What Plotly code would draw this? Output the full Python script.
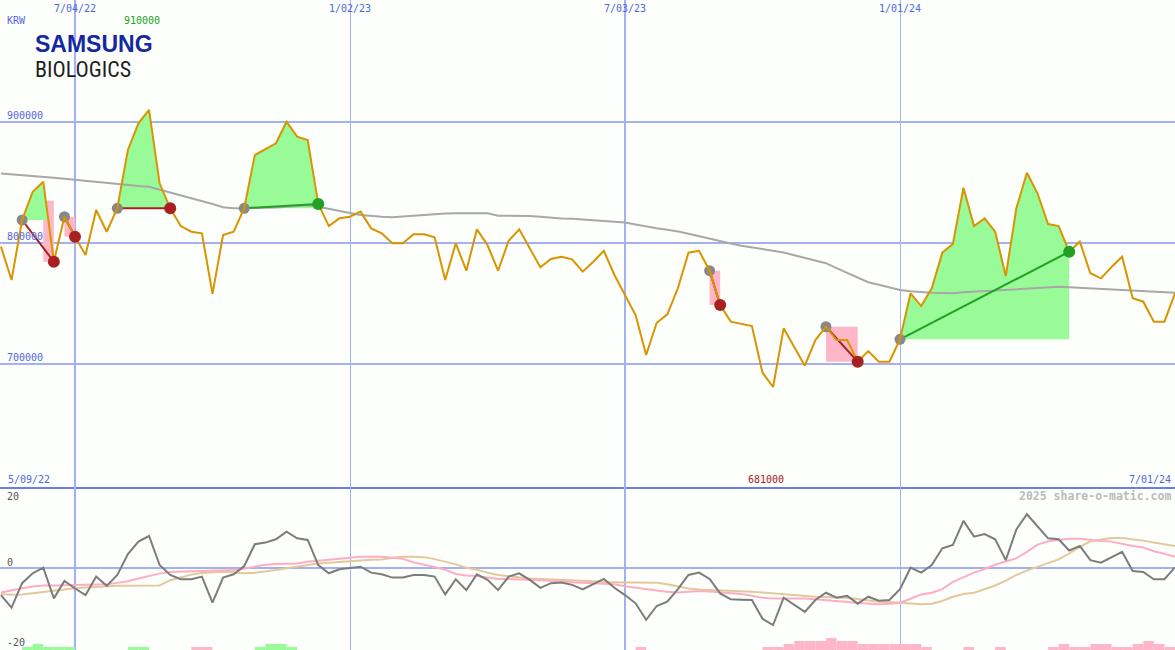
import pandas as pd
import plotly.graph_objects as go

# ---------------- data ----------------
start_week = "2022-05-16"

price = [
    797000, 769400, 819000, 842400, 850700, 784500, 821700, 805200, 790100, 827300,
    809300, 828700, 876900, 898900, 910000, 849300, 828700, 814000, 809300, 808000,
    757900, 806600, 809300, 828700, 872700, 877400, 882400, 900200, 887900, 885100,
    832200, 814000, 820400, 821700, 825900, 812100, 808000, 799800, 799800, 807200,
    807200, 804700, 769400, 799800, 777100, 811300, 798300, 777100, 801900, 811300,
    795600, 779900, 786800, 788700, 786500, 776300, 784500, 793600, 773600, 757000,
    740500, 707400, 734100, 741100, 762600, 792000, 793600, 777100, 748800, 735000,
    733100, 731400, 692800, 681000, 729500, 714300, 698600, 719800, 730800, 719800,
    719800, 701900, 710700, 701900, 701900, 720400, 758400, 747900, 762600, 792000,
    799200, 845700, 814000, 820400, 809300, 772700, 828700, 858100, 841100, 815700,
    814000, 792800, 801100, 775000, 770800, 780200, 788700, 754300, 751500, 735000,
    735000, 758400,
]

ma_long = [
    857500, 856900, 856400, 855800, 855000, 854000, 853100, 852200, 851300, 850500,
    849500, 848300, 847600, 847100, 846500, 844200, 841700, 839400, 837300, 835000,
    832200, 829600, 828700, 828700, 828700, 828700, 829300, 829900, 830600, 831200,
    829900, 828000, 826400, 824800, 823100, 822100, 821700, 821200, 821900, 822700,
    823500, 824000, 824400, 824500, 824500, 824500, 824500, 822600, 822600, 822400,
    822300, 821600, 820800, 820200, 820000, 819700, 818800, 818200, 817500, 816900,
    815300, 813600, 812200, 810900, 809600, 807600, 805500, 803200, 801300, 799600,
    797800, 796300, 795000, 793700, 792100, 789900, 787700, 785500, 783300, 779300,
    775300, 771200, 767600, 765500, 763300, 761200, 760200, 759300, 758900, 758700,
    758400, 759300, 759800, 760800, 761300, 761800, 762100, 762600, 763100, 763600,
    763800, 763400, 762900, 762600, 762200, 761900, 761400, 760800, 760300, 759800,
    759400, 758900,
]

osc = [
    -8.3, -12.1, -4.7, -1.7, 0.0, -9.3, -4.0, -6.3, -8.3, -2.7,
    -5.5, -2.2, 4.1, 7.9, 9.6, 0.8, -2.2, -3.5, -3.5, -2.7,
    -10.6, -3.0, -2.0, 0.5, 7.1, 7.6, 8.6, 10.9, 8.9, 8.4,
    0.8, -1.7, -0.5, -0.2, 0.3, -1.5, -2.0, -3.0, -3.0, -2.2,
    -2.2, -2.7, -8.1, -3.5, -6.8, -2.0, -3.7, -6.8, -2.7, -1.7,
    -3.7, -6.1, -4.7, -4.5, -5.2, -6.6, -5.0, -3.4, -6.1, -8.3,
    -10.8, -15.8, -11.6, -10.3, -6.5, -2.2, -1.5, -3.4, -7.8, -9.6,
    -9.7, -9.8, -15.5, -17.4, -9.1, -11.3, -13.4, -9.8, -7.6, -9.1,
    -8.5, -10.9, -8.8, -10.0, -9.8, -6.5, 0.0, -1.5, 0.8, 5.9,
    6.9, 14.2, 9.4, 10.2, 8.6, 2.3, 11.6, 16.2, 12.7, 8.9,
    8.6, 5.2, 6.6, 2.3, 1.5, 3.2, 4.8, -1.0, -1.3, -3.5,
    -3.5, 0.1,
]

osc_fast = [
    -7.5, -6.8, -6.2, -5.7, -5.4, -5.4, -5.3, -5.3, -5.2, -5.1,
    -5.0, -4.6, -4.1, -3.3, -2.5, -1.8, -1.3, -1.2, -1.2, -1.2,
    -1.1, -1.0, -0.7, -0.3, 0.3, 0.9, 1.1, 1.2, 1.3, 1.8,
    2.1, 2.3, 2.5, 2.9, 3.3, 3.3, 3.3, 3.0, 2.7, 1.6,
    1.0, 0.2, -0.6, -1.9, -2.4, -2.5, -3.0, -3.4, -3.4, -3.5,
    -3.6, -3.8, -3.9, -4.1, -4.4, -4.5, -4.6, -4.8, -5.0, -5.6,
    -6.1, -6.5, -6.9, -7.3, -7.5, -7.3, -7.1, -7.2, -7.4, -7.6,
    -8.0, -8.5, -9.1, -9.3, -9.3, -9.3, -9.3, -9.6, -9.8, -10.1,
    -10.4, -10.7, -10.9, -11.1, -10.9, -10.6, -9.4, -8.1, -7.6, -6.5,
    -4.3, -2.8, -1.5, -0.4, 0.9, 1.9, 2.8, 4.8, 7.0, 8.0,
    8.4, 8.8, 8.8, 8.4, 8.1, 7.9, 7.2, 6.6, 6.1, 5.0,
    4.2, 3.3,
]

osc_slow = [
    -8.0, -8.2, -8.1, -7.7, -7.3, -7.0, -6.6, -6.2, -6.0, -5.8,
    -5.6, -5.5, -5.5, -5.5, -5.5, -5.4, -3.8, -2.9, -2.1, -1.6,
    -1.4, -1.2, -1.4, -1.7, -1.5, -1.2, -0.7, -0.2, 0.3, 0.9,
    1.3, 1.5, 1.8, 2.0, 2.2, 2.4, 2.5, 3.0, 3.3, 3.3,
    3.2, 2.6, 1.9, 1.0, 0.0, -0.6, -1.5, -2.2, -2.6, -3.0,
    -3.3, -3.4, -3.5, -3.6, -3.8, -4.0, -4.1, -4.3, -4.5, -4.5,
    -4.5, -4.5, -4.6, -5.0, -5.6, -6.3, -6.6, -6.7, -6.9, -7.0,
    -7.2, -7.3, -7.5, -7.8, -8.1, -8.3, -8.6, -8.8, -8.9, -9.0,
    -9.2, -9.5, -9.9, -10.3, -10.4, -10.6, -10.9, -11.1, -10.9, -10.1,
    -8.8, -8.0, -7.6, -6.6, -5.4, -3.9, -2.2, -0.9, 0.2, 1.3,
    2.5, 4.3, 6.3, 8.0, 8.6, 9.0, 9.0, 8.7, 8.2, 7.6,
    7.1, 6.6,
]

# signed strength bars: + green, - pink
signal_bars = [
    0, 0, 1, 2, 1, 1, 1, 0, 0, 0,
    0, 0, 1, 1, 0, 0, 0, 0, -1, -1,
    0, 0, 0, 0, 1, 2, 2, 1, 0, 0,
    0, 0, 0, 0, 0, 0, 0, 0, 0, 0,
    0, 0, 0, 0, 0, 0, 0, 0, 0, 0,
    0, 0, 0, 0, 0, 0, 0, 0, 0, 0,
    -1, 0, 0, 0, 0, 0, 0, 0, 0, 0,
    0, 0, -1, -1, -2, -3, -3, -3, -4, -3,
    -3, -2, -2, -2, -2, -2, -2, -1, 0, 0,
    0, -1, 0, 0, -1, 0, 0, 0, 0, -1,
    -2, -1, -1, -2, -2, -1, -1, -2, -3, -2,
    -1, 0,
]

trade_entry = [2, 6, 11, 23, 67, 78, 85]
trade_exit = [5, 7, 16, 30, 68, 81, 101]
trade_win = [False, False, False, True, False, False, True]
trade_stop = [835000, 821700, 828700, 828700, 777100, 730800, 720400]

grid_major = ["2022-07-04", "2023-07-03"]
grid_minor = ["2023-01-02", "2024-01-01"]
price_ticks = [900000, 800000, 700000]
osc_ticks = [20, 0, -20]
currency = "KRW"
first_label = "5/09/22"
last_label = "7/01/24"
watermark = "2025 share-o-matic.com"

# ---------------- styling ----------------
W, H = 1175, 650
split = 163 / 650
BG = "#fcfffc"
GRID = "#a3b1f2"
SEP = "#6a7ee8"
LBL = "#5566dd"
ORANGE = "#d99400"
PALEGREEN = "#98fb98"
PINK = "#ffb6c8"
RED = "#a82020"
GREEN = "#22a022"
osc_label_px = [496, 562, 642]

dates = pd.date_range(start_week, periods=len(price), freq="7D")


def fmt_date(d):
    d = pd.Timestamp(d)
    return f"{d.month}/{d.day:02d}/{d.year % 100:02d}"


fig = go.Figure()

# pink loss boxes
for e, x, w, s in zip(trade_entry, trade_exit, trade_win, trade_stop):
    if w:
        continue
    seg = price[e:x + 1]
    k = e + seg.index(max(seg))
    fig.add_trace(go.Scatter(
        x=[dates[k], dates[x], dates[x], dates[k], dates[k]],
        y=[s, s, price[x], price[x], s],
        mode="lines", fill="toself", fillcolor=PINK, line=dict(width=0),
        xaxis="x", yaxis="y", hoverinfo="skip"))

# green gain areas
for e, x in zip(trade_entry, trade_exit):
    L = price[e]
    xs, ys = [dates[e]], [L]
    for i in range(e, x):
        p0, p1 = price[i], price[i + 1]
        xs.append(dates[i]); ys.append(max(p0, L))
        if (p0 - L) * (p1 - L) < 0:
            f = (L - p0) / (p1 - p0)
            xs.append(dates[i] + (dates[i + 1] - dates[i]) * f); ys.append(L)
    xs.append(dates[x]); ys.append(max(price[x], L))
    xs.append(dates[x]); ys.append(L)
    fig.add_trace(go.Scatter(x=xs, y=ys, mode="lines", fill="toself",
                             fillcolor=PALEGREEN, line=dict(width=0),
                             xaxis="x", yaxis="y", hoverinfo="skip"))

# long moving average
fig.add_trace(go.Scatter(x=dates, y=ma_long, mode="lines",
                         line=dict(color="#a8a8a8", width=2), xaxis="x", yaxis="y"))

# trade connection lines
for e, x, w in zip(trade_entry, trade_exit, trade_win):
    fig.add_trace(go.Scatter(x=[dates[e], dates[x]], y=[price[e], price[x]],
                             mode="lines", line=dict(color=GREEN if w else RED, width=2),
                             xaxis="x", yaxis="y"))

# entry markers
fig.add_trace(go.Scatter(x=[dates[e] for e in trade_entry],
                         y=[price[e] for e in trade_entry], mode="markers",
                         marker=dict(color="#888888", size=11), xaxis="x", yaxis="y"))

# price line
fig.add_trace(go.Scatter(x=dates, y=price, mode="lines",
                         line=dict(color=ORANGE, width=2), xaxis="x", yaxis="y"))

# exit markers
fig.add_trace(go.Scatter(x=[dates[x] for x in trade_exit],
                         y=[price[x] for x in trade_exit], mode="markers",
                         marker=dict(color=[GREEN if w else RED for w in trade_win], size=12),
                         xaxis="x", yaxis="y"))

# lower panel
fig.add_trace(go.Bar(x=dates, y=[abs(v) for v in signal_bars],
                     marker=dict(color=[PALEGREEN if v > 0 else PINK for v in signal_bars],
                                 line=dict(width=0)),
                     width=7 * 86400000, offset=0, xaxis="x2", yaxis="y3"))
fig.add_trace(go.Scatter(x=dates, y=osc_slow, mode="lines",
                         line=dict(color="#e3c999", width=2), xaxis="x2", yaxis="y2"))
fig.add_trace(go.Scatter(x=dates, y=osc_fast, mode="lines",
                         line=dict(color="#ffadc2", width=2), xaxis="x2", yaxis="y2"))
fig.add_trace(go.Scatter(x=dates, y=osc, mode="lines",
                         line=dict(color="#7c7c7c", width=2), xaxis="x2", yaxis="y2"))

# ---------------- annotations ----------------
ann = []
mono = "DejaVu Sans Mono"


def px_x(p):
    return p / W


def px_y(p):
    return 1 - p / H


ann.append(dict(text=currency, x=px_x(5), y=px_y(20), xref="paper", yref="paper",
                xanchor="left", yanchor="middle", font=dict(family=mono, size=10, color=LBL)))
for d in grid_major + grid_minor:
    ann.append(dict(text=fmt_date(d), x=d, y=px_y(8), xref="x", yref="paper",
                    xanchor="center", yanchor="middle",
                    font=dict(family=mono, size=10, color=LBL)))
ann.append(dict(text=first_label, x=px_x(6), y=px_y(479), xref="paper", yref="paper",
                xanchor="left", yanchor="middle", font=dict(family=mono, size=10, color=LBL)))
ann.append(dict(text=last_label, x=px_x(1173), y=px_y(479), xref="paper", yref="paper",
                xanchor="right", yanchor="middle", font=dict(family=mono, size=10, color=LBL)))
for v in price_ticks:
    ann.append(dict(text=str(v), x=px_x(5), y=v, xref="paper", yref="y",
                    xanchor="left", yanchor="bottom", yshift=-1,
                    font=dict(family=mono, size=10, color=LBL)))
for v, py in zip(osc_ticks, osc_label_px):
    ann.append(dict(text=str(v), x=px_x(5), y=px_y(py), xref="paper", yref="paper",
                    xanchor="left", yanchor="middle",
                    font=dict(family=mono, size=10, color="#555555")))
imax = price.index(max(price))
imin = price.index(min(price))
ann.append(dict(text=str(max(price)), x=dates[imax], y=px_y(20), xref="x", yref="paper",
                xanchor="center", yanchor="middle", xshift=-7,
                font=dict(family=mono, size=10, color=GREEN)))
ann.append(dict(text=str(min(price)), x=dates[imin], y=px_y(479), xref="x", yref="paper",
                xanchor="center", yanchor="middle", xshift=-7,
                font=dict(family=mono, size=10, color=RED)))
ann.append(dict(text="<b>" + watermark + "</b>", x=px_x(1173), y=px_y(496), xref="paper",
                yref="paper", xanchor="right", yanchor="middle",
                font=dict(family=mono, size=11.5, color="#bbbbbb")))
ann.append(dict(text="<b>SAMSUNG</b>", x=px_x(33), y=px_y(44), xref="paper", yref="paper",
                xanchor="left", yanchor="middle",
                font=dict(family="Liberation Sans", size=23, color="#1428a0")))
ann.append(dict(text="BIOLOGICS", x=px_x(33), y=px_y(69), xref="paper", yref="paper",
                xanchor="left", yanchor="middle",
                font=dict(family="Liberation Sans Narrow, Roboto Condensed, Roboto", size=22,
                          color="#1e1e1e")))
for a in ann:
    a["showarrow"] = False

xcommon = dict(type="date", range=["2022-05-15 08:40", "2024-07-01"],
               tickmode="array", tickvals=grid_major, showticklabels=False, ticks="",
               showgrid=True, gridcolor=GRID, gridwidth=2, zeroline=False,
               minor=dict(tickmode="array", tickvals=grid_minor, showgrid=True,
                          gridcolor=GRID, gridwidth=1, ticks=""),
               fixedrange=True)

fig.update_layout(
    width=W, height=H, margin=dict(l=0, r=0, t=0, b=0),
    paper_bgcolor=BG, plot_bgcolor=BG, showlegend=False, hovermode=False,
    xaxis=dict(**xcommon, domain=[0, 1], anchor="y", showline=True, linecolor=SEP,
               linewidth=2, side="bottom"),
    xaxis2=dict(**xcommon, domain=[0, 1], anchor="y2", matches="x", showline=False),
    yaxis=dict(domain=[split, 1], range=[598350, 1000830], tickmode="array",
               tickvals=price_ticks, showticklabels=False, ticks="", showgrid=True,
               gridcolor=GRID, gridwidth=2, zeroline=False, fixedrange=True),
    yaxis2=dict(domain=[0, split], range=[-24.94, 24.45], tickmode="array", tickvals=[0],
                showticklabels=False, ticks="", showgrid=True, gridcolor=GRID, gridwidth=2,
                zeroline=False, fixedrange=True),
    yaxis3=dict(domain=[0, split], overlaying="y2", range=[0, 163 / 3], visible=False,
                fixedrange=True),
    annotations=ann,
)

fig.write_html(
    "out.html",
    config={"displayModeBar": False},
    post_script="document.body.style.margin='0';document.body.style.padding='0';"
                "document.body.style.overflow='hidden';",
)
